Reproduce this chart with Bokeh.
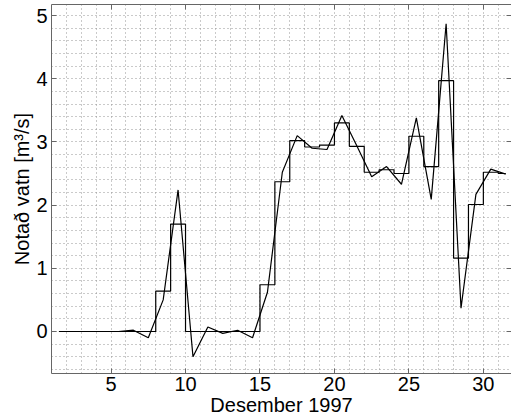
from bokeh.plotting import figure
from bokeh.models import Range1d, FixedTicker, LinearAxis
from bokeh.embed import file_html
from bokeh.resources import INLINE

# Days of December 1997
days = list(range(1, 32))

# Daily mean water use [m3/s], one value per day
daily_mean = [0, 0, 0, 0, 0, 0, 0, 0.64, 1.70, 0, 0, 0, 0, 0, 0.74,
              2.37, 3.02, 2.92, 2.95, 3.30, 2.93, 2.52, 2.56, 2.50, 3.09,
              2.61, 3.97, 1.16, 2.01, 2.52, 2.50]

# Instantaneous value at midday [m3/s]
midday_value = [0, 0, 0, 0, 0, 0.02, -0.10, 0.50, 2.24, -0.40, 0.07, -0.03,
                0.02, -0.10, 0.62, 2.52, 3.10, 2.90, 2.88, 3.42, 2.94, 2.45,
                2.61, 2.33, 3.38, 2.09, 4.87, 0.37, 2.17, 2.57, 2.49]

x_ticks = [5, 10, 15, 20, 25, 30]
y_ticks = [0, 1, 2, 3, 4, 5]

x_label = "Desember 1997"
y_label = "Notað vatn [m³/s]"

# each value belongs to the middle of its day
midday = [d + 0.5 for d in days]

FONT = "Liberation Sans"
AXIS_COLOR = "#666666"
GRID_COLOR = "#959595"

p = figure(width=511, height=418, output_backend="svg", toolbar_location=None,
           x_range=Range1d(1, 31.89), y_range=Range1d(-0.665, 5.175),
           min_border_left=51, min_border_right=0, min_border_top=4,
           min_border_bottom=40, x_axis_location=None, y_axis_location=None)
p.outline_line_color = None
p.background_fill_color = "white"
p.border_fill_color = "white"


def style_axis(ax, labels=True):
    ax.major_tick_in = 5
    ax.major_tick_out = 0
    ax.minor_tick_line_color = None
    ax.axis_line_color = AXIS_COLOR
    ax.major_tick_line_color = AXIS_COLOR
    if labels:
        ax.major_label_text_font = FONT
        ax.major_label_text_font_size = "20px"
        ax.major_label_text_color = "black"
        ax.axis_label_text_font = FONT
        ax.axis_label_text_font_size = "20px"
        ax.axis_label_text_font_style = "normal"
        ax.axis_label_text_color = "black"
    else:
        # tick marks only, no labels on the box sides
        ax.major_label_text_font_size = "0px"
        ax.major_label_text_color = None
        ax.major_label_standoff = 0


bottom = LinearAxis(ticker=FixedTicker(ticks=x_ticks), axis_label=x_label)
style_axis(bottom)
bottom.major_label_standoff = 3
bottom.axis_label_standoff = 0
p.add_layout(bottom, "below")

left = LinearAxis(ticker=FixedTicker(ticks=y_ticks), axis_label=y_label)
style_axis(left)
left.major_label_standoff = 4
left.axis_label_standoff = 0
p.add_layout(left, "left")

top = LinearAxis(ticker=FixedTicker(ticks=x_ticks))
style_axis(top, labels=False)
p.add_layout(top, "above")

right = LinearAxis(ticker=FixedTicker(ticks=y_ticks))
style_axis(right, labels=False)
right.axis_line_color = None
p.add_layout(right, "right")

# dotted grid: every day and every 0.2 m3/s
p.xgrid.ticker = FixedTicker(ticks=list(range(2, 32)))
p.ygrid.ticker = FixedTicker(ticks=[round(-0.6 + 0.2 * i, 1) for i in range(29)])
for g in (p.xgrid, p.ygrid):
    g.grid_line_color = GRID_COLOR
    g.grid_line_dash = "1 3"
    g.grid_line_width = 1

p.step(midday, daily_mean, mode="center", line_color="black", line_width=1.2)
p.line(midday, midday_value, line_color="black", line_width=1.2)

open("out.html", "w").write(file_html(p, INLINE))
